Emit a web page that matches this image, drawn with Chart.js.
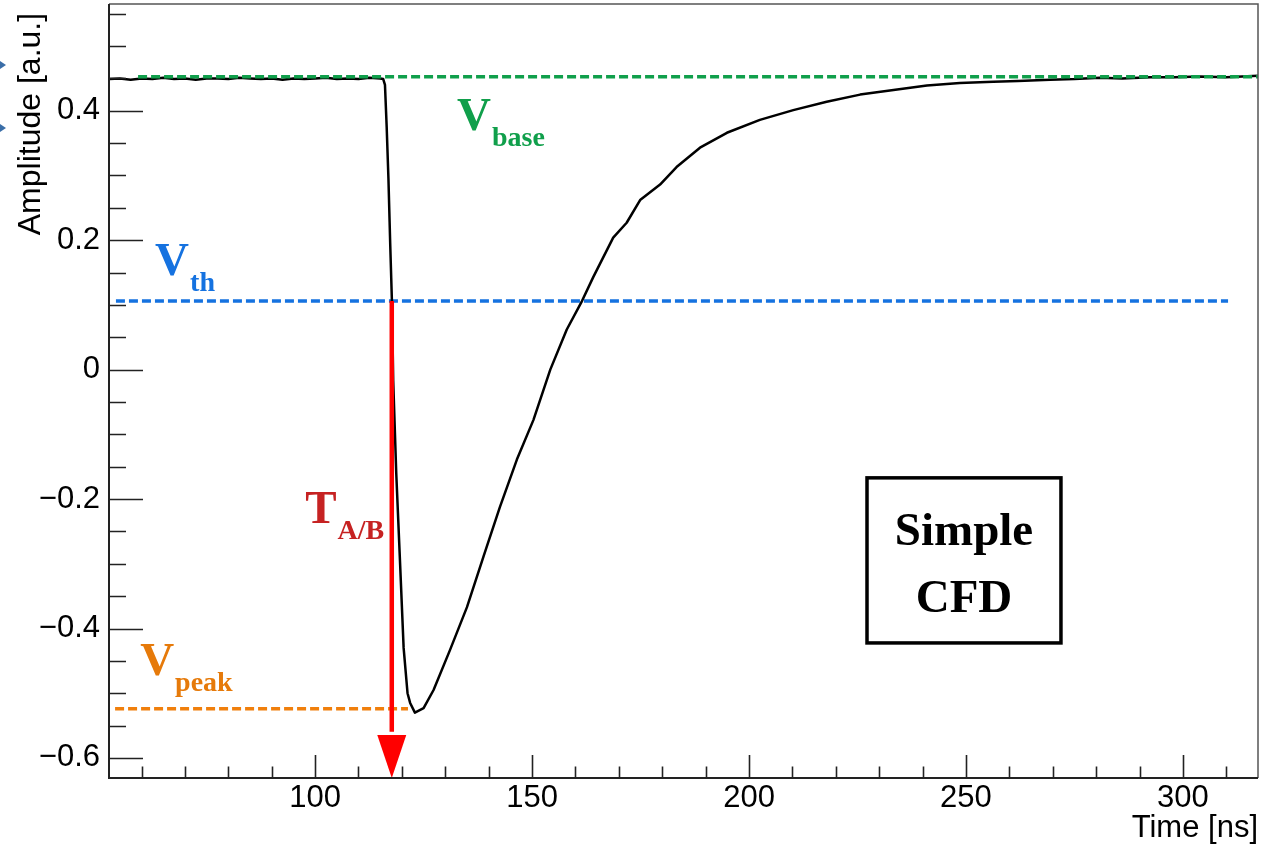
<!DOCTYPE html>
<html><head><meta charset="utf-8">
<script src="https://cdn.jsdelivr.net/npm/chart.js@4"></script>
<style>html,body{margin:0;padding:0;background:#fff;} canvas{display:block;}</style>
</head><body>
<canvas id="c" width="1264" height="849"></canvas>
<script>
// ---- data ----
const timeNs = [52.6, 55, 57.5, 60, 62.5, 65, 67.5, 70, 72.5, 75, 77.5, 80, 82.5, 85, 87.5, 90, 92.5, 95, 97.5, 100,
  102.5, 105, 107.5, 110, 112.5, 115, 115.7, 116.1, 116.5, 116.9, 117.3, 117.7, 118.0, 118.7, 119.6, 120.4, 121.3, 121.9, 123.0,
  125.0, 127.3, 131.1, 135.0, 138.8, 142.6, 146.5, 150.3, 154.2, 158.0, 161.5,
  164.1, 168.7, 171.8, 174.9, 179.5, 183.3, 188.7, 194.9, 202.5, 210.2,
  217.9, 225.6, 233.3, 241.0, 248.6, 256.3, 262, 269.4, 275, 280.9,
  286, 292.4, 298, 303.9, 310, 317.3];
const amplitude = [0.449, 0.450, 0.448, 0.450, 0.449, 0.451, 0.449, 0.450, 0.448, 0.450,
  0.450, 0.449, 0.451, 0.450, 0.449, 0.450, 0.448, 0.450, 0.449, 0.450,
  0.451, 0.449, 0.450, 0.449, 0.451, 0.450,
  0.449, 0.440, 0.374, 0.295, 0.196, 0.106, -0.017, -0.160, -0.302, -0.430, -0.500, -0.515, -0.530,
  -0.523, -0.495, -0.433, -0.367, -0.289, -0.212, -0.139, -0.078, 0.000, 0.062, 0.106,
  0.143, 0.204, 0.227, 0.262, 0.286, 0.313, 0.343, 0.366, 0.386, 0.401,
  0.414, 0.425, 0.432, 0.439, 0.443, 0.445, 0.446, 0.448, 0.449, 0.451,
  0.450, 0.452, 0.452, 0.453, 0.452, 0.454];

const baseLevel = 0.4525;      const baseSpan = [59.2, 317.3];
const thresholdLevel = 0.106;  const thresholdSpan = [54.1, 310.4];
const peakLevel = -0.524;      const peakSpan = [53.9, 121.4];
const arrowTime = 117.67;      const arrowHeadBase = -0.5645;

const xTickLabels = [100, 150, 200, 250, 300];
const yTickLabels = [-0.6, -0.4, -0.2, 0, 0.2, 0.4];
const xRange = [52.5, 317.3];
const yRange = [-0.631, 0.565];
const xMinorStep = 10;
const yMinorStep = 0.05;

// annotation texts (anchors in data coordinates)
const labels = [
  {main: 'V', sub: 'base', x: 132.72, y: 0.3706, color: '#109f4b'},
  {main: 'V', sub: 'th',   x: 63.13,  y: 0.1465, color: '#1572e0'},
  {main: 'V', sub: 'peak', x: 59.68,  y: -0.4717, color: '#e67a0a'},
  {main: 'T', sub: 'A/B',  x: 97.70,  y: -0.2368, color: '#c62222'}
];
const boxCorners = {x0: 227.19, x1: 271.89, y0: -0.1672, y1: -0.4223};
const boxLines = [{text: 'Simple', x: 249.54, y: -0.2708}, {text: 'CFD', x: 249.54, y: -0.3743}];

// ---- build datasets ----
const wave = timeNs.map((t, i) => ({x: t, y: amplitude[i]}));
const hline = (span, lvl) => [{x: span[0], y: lvl}, {x: span[1], y: lvl}];

const SANS = '"Liberation Sans", Arial, Helvetica, sans-serif';
const SERIF = '"Liberation Serif", "Times New Roman", serif';

const decor = {
  id: 'decor',
  afterDatasetsDraw(chart) {
    const {ctx, chartArea: a, scales: {x, y}} = chart;
    ctx.save();
    // arrow head
    const ax = x.getPixelForValue(arrowTime);
    const hb = y.getPixelForValue(arrowHeadBase);
    ctx.fillStyle = '#ff0000';
    ctx.beginPath();
    ctx.moveTo(ax - 14.5, hb); ctx.lineTo(ax + 14.5, hb); ctx.lineTo(ax, a.bottom); ctx.closePath();
    ctx.fill();

    // ticks
    ctx.strokeStyle = '#222'; ctx.lineWidth = 1.6;
    ctx.beginPath();
    for (let v = 60; v <= xRange[1]; v += xMinorStep) {
      const px = Math.round(x.getPixelForValue(v)) + 0.5;
      const len = (v % 50 === 0) ? 23 : 11.5;
      ctx.moveTo(px, a.bottom); ctx.lineTo(px, a.bottom - len);
    }
    for (let k = Math.ceil(yRange[0] / yMinorStep); k * yMinorStep <= yRange[1]; k++) {
      const v = k * yMinorStep;
      const py = Math.round(y.getPixelForValue(v)) + 0.5;
      const len = (k % 4 === 0) ? 34 : 17;
      ctx.moveTo(a.left, py); ctx.lineTo(a.left + len, py);
    }
    ctx.stroke();

    // frame
    ctx.strokeStyle = '#555'; ctx.lineWidth = 1.5;
    ctx.beginPath();
    ctx.moveTo(a.left, a.top); ctx.lineTo(a.right, a.top); ctx.lineTo(a.right, a.bottom);
    ctx.stroke();
    ctx.strokeStyle = '#222'; ctx.lineWidth = 2;
    ctx.beginPath();
    ctx.moveTo(a.left, a.top); ctx.lineTo(a.left, a.bottom); ctx.lineTo(a.right, a.bottom);
    ctx.stroke();

    // labels
    ctx.textBaseline = 'alphabetic'; ctx.textAlign = 'left';
    labels.forEach(l => {
      const px = x.getPixelForValue(l.x), py = y.getPixelForValue(l.y);
      ctx.fillStyle = l.color;
      ctx.font = 'bold 47px ' + SERIF;
      ctx.fillText(l.main, px, py);
      const w = ctx.measureText(l.main).width;
      ctx.font = 'bold 28px ' + SERIF;
      ctx.fillText(l.sub, px + w + 1, py + 16);
    });

    // box
    const bx0 = x.getPixelForValue(boxCorners.x0), bx1 = x.getPixelForValue(boxCorners.x1);
    const by0 = y.getPixelForValue(boxCorners.y0), by1 = y.getPixelForValue(boxCorners.y1);
    ctx.fillStyle = '#fff';
    ctx.fillRect(bx0, by0, bx1 - bx0, by1 - by0);
    ctx.strokeStyle = '#000'; ctx.lineWidth = 3.5;
    ctx.strokeRect(bx0, by0, bx1 - bx0, by1 - by0);
    ctx.fillStyle = '#000'; ctx.textAlign = 'center';
    ctx.font = 'bold 47px ' + SERIF;
    boxLines.forEach(b => ctx.fillText(b.text, x.getPixelForValue(b.x), y.getPixelForValue(b.y)));

    // small cut-off markers at the left edge
    ctx.fillStyle = '#3a6ea8';
    [65, 128].forEach(py => {
      ctx.beginPath(); ctx.moveTo(0, py - 4); ctx.lineTo(6, py); ctx.lineTo(0, py + 4); ctx.closePath(); ctx.fill();
    });
    ctx.restore();
  }
};

const dash = [9, 4];
new Chart(document.getElementById('c'), {
  type: 'line',
  data: {
    datasets: [
      {data: hline(baseSpan, baseLevel), borderColor: '#109f4b', borderWidth: 3.5, borderDash: dash, order: 0},
      {data: [{x: arrowTime, y: thresholdLevel}, {x: arrowTime, y: arrowHeadBase + 0.005}], borderColor: '#ff0000', borderWidth: 4.5, order: 1},
      {data: wave, borderColor: '#000', borderWidth: 2.5, order: 2, borderJoinStyle: 'round'},
      {data: hline(thresholdSpan, thresholdLevel), borderColor: '#1572e0', borderWidth: 3.5, borderDash: dash, order: 3},
      {data: hline(peakSpan, peakLevel), borderColor: '#f07f0c', borderWidth: 3.5, borderDash: dash, order: 4}
    ]
  },
  options: {
    responsive: false,
    animation: false,
    devicePixelRatio: 1,
    layout: {padding: {top: 4, right: 6, left: 0, bottom: 0}},
    elements: {point: {radius: 0}, line: {tension: 0}},
    plugins: {legend: {display: false}, tooltip: {enabled: false}},
    scales: {
      x: {
        type: 'linear', min: xRange[0], max: xRange[1], position: 'bottom',
        grid: {display: false, drawTicks: false}, border: {display: false},
        afterBuildTicks: s => { s.ticks = xTickLabels.map(v => ({value: v})); },
        afterFit: s => { s.height = 71; s.paddingLeft = 0; s.paddingRight = 0; },
        ticks: {autoSkip: false, maxRotation: 0, padding: 2, color: '#000', font: {family: SANS, size: 31},
                callback: v => String(v)},
        title: {display: true, text: 'Time [ns]', align: 'end', color: '#000', font: {family: SANS, size: 31},
                padding: {top: 0, bottom: 2}}
      },
      y: {
        type: 'linear', min: yRange[0], max: yRange[1], position: 'left',
        grid: {display: false, drawTicks: false}, border: {display: false},
        afterBuildTicks: s => { s.ticks = yTickLabels.map(v => ({value: v})); },
        afterFit: s => { s.width = 109; s.paddingTop = 0; s.paddingBottom = 0; },
        ticks: {autoSkip: false, padding: 9, color: '#000', font: {family: SANS, size: 31},
                callback: v => v === 0 ? '0' : (v < 0 ? '\u2212' : '') + Math.abs(v).toFixed(1)},
        title: {display: true, text: 'Amplitude [a.u.] ', align: 'end', color: '#000', font: {family: SANS, size: 32},
                padding: {top: 12, bottom: 0}}
      }
    }
  },
  plugins: [decor]
});
</script>
</body></html>
